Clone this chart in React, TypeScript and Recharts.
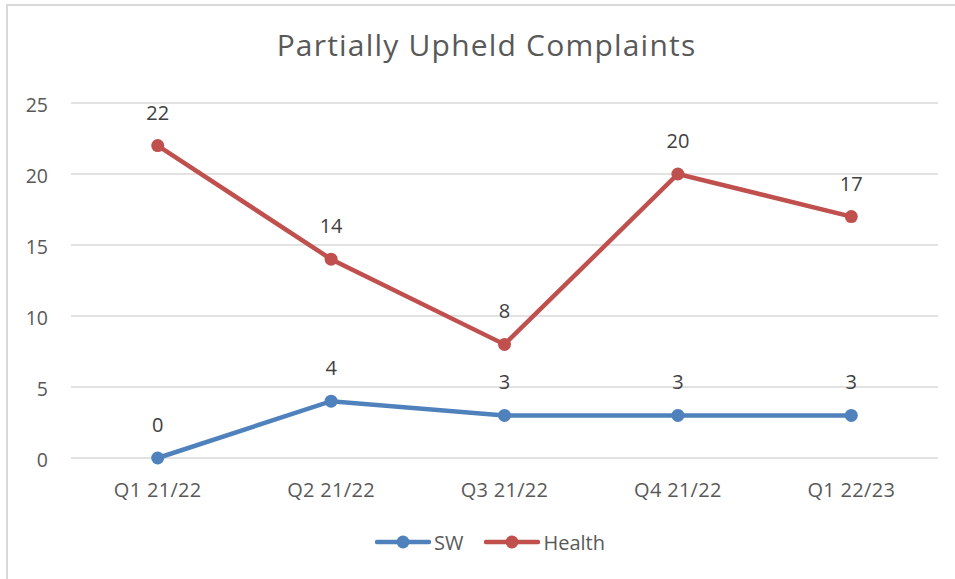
import React from "react";
import { LineChart, Line, XAxis, YAxis, CartesianGrid, Legend, LabelList } from "recharts";

const categories = ["Q1 21/22", "Q2 21/22", "Q3 21/22", "Q4 21/22", "Q1 22/23"];
const swValues = [0, 4, 3, 3, 3];
const healthValues = [22, 14, 8, 20, 17];
const yTicks = [0, 5, 10, 15, 20, 25];
const seriesOrder = ["SW", "Health"];

const data = categories.map((c, i) => ({ name: c, SW: swValues[i], Health: healthValues[i] }));

const FONT = "'Open Sans', sans-serif";
const BLUE = "#4F81BD";
const RED = "#C0504D";
const TEXT = "#595959";

const LegendContent = (props: any) => {
  const payload = [...(props.payload || [])].sort(
    (a: any, b: any) => seriesOrder.indexOf(a.value) - seriesOrder.indexOf(b.value)
  );
  return (
    <div style={{ display: "flex", justifyContent: "center", alignItems: "center", height: 28, fontFamily: FONT, fontSize: 20, color: TEXT }}>
      {payload.map((p: any, i: number) => (
        <div key={i} style={{ display: "flex", alignItems: "center", marginLeft: i === 0 ? 0 : 21 }}>
          <svg width={56} height={16} style={{ display: "block" }}>
            <line x1={2} y1={8} x2={54} y2={8} stroke={p.color} strokeWidth={4.5} strokeLinecap="round" />
            <circle cx={28} cy={8} r={6.5} fill={p.color} />
          </svg>
          <span style={{ marginLeft: 3 }}>{p.value}</span>
        </div>
      ))}
    </div>
  );
};

export default function App() {
  return (
    <div style={{ width: 939, height: 563 }}>
      <div style={{ position: "fixed", left: 0, top: 0, width: 955, height: 579, background: "#fff", overflow: "hidden" }}>
        <div style={{ position: "absolute", left: 0, top: 0 }}>
          <LineChart width={955} height={579} data={data} margin={{ top: 103, right: 17, bottom: 63, left: 0 }}>
            <CartesianGrid vertical={false} stroke="#D9D9D9" strokeWidth={1.5} />
            <XAxis dataKey="name" height={30} axisLine={false} tickLine={false} tickSize={0} tickMargin={25}
              padding={{ left: 86.7, right: 86.7 }}
              tick={{ fill: TEXT, fontSize: 20, fontFamily: FONT, letterSpacing: 0.3 }} />
            <YAxis width={71} domain={[0, 25]} ticks={yTicks} axisLine={false} tickLine={false} tickSize={0} tickMargin={23}
              tick={{ fill: TEXT, fontSize: 19.5, fontFamily: FONT, dy: 2.5 }} />
            <Legend content={<LegendContent />} wrapperStyle={{ position: "absolute", top: 528, left: 0, width: 955, height: 28, paddingLeft: 25, boxSizing: "border-box" }} />
            <Line dataKey="SW" stroke={BLUE} strokeWidth={4.5} isAnimationActive={false}
              dot={{ r: 6.5, fill: BLUE, stroke: BLUE, strokeWidth: 0 }} activeDot={false}>
              <LabelList dataKey="SW" position="top" offset={26} fill="#404040" fontSize={20} fontFamily={FONT} />
            </Line>
            <Line dataKey="Health" stroke={RED} strokeWidth={4.5} isAnimationActive={false}
              dot={{ r: 6.5, fill: RED, stroke: RED, strokeWidth: 0 }} activeDot={false}>
              <LabelList dataKey="Health" position="top" offset={26} fill="#404040" fontSize={20} fontFamily={FONT} />
            </Line>
          </LineChart>
        </div>
        <div style={{ position: "absolute", left: 0, top: 24, width: 955, paddingLeft: 18, boxSizing: "border-box", textAlign: "center", fontFamily: FONT, fontSize: 30, letterSpacing: 1.2, color: TEXT, whiteSpace: "nowrap", lineHeight: "normal" }}>
          Partially Upheld Complaints
        </div>
        <div style={{ position: "absolute", left: 6, top: 4, width: 2, height: 575, background: "#D9D9D9" }} />
        <div style={{ position: "absolute", left: 6, top: 4, width: 949, height: 2, background: "#D9D9D9" }} />
      </div>
    </div>
  );
}
